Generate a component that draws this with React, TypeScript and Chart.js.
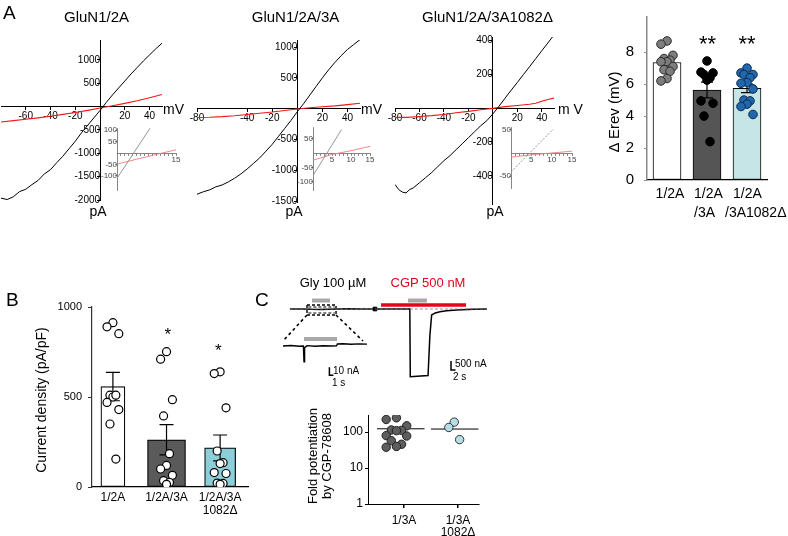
import React, { useEffect, useRef } from "react";
import { Chart, registerables } from "chart.js";
Chart.register(...registerables);

const FONT = "'Liberation Sans', Arial, Helvetica, sans-serif";
Chart.defaults.font.family = FONT;
Chart.defaults.color = "#000";

// ================= Panel A: I–V relations (mV -> pA) =================
const ivVolt5 = [-80, -75, -70, -65, -60, -55, -50, -45, -40, -35, -30, -25, -20, -15, -10, -5, 0, 5, 10, 15, 20, 25, 30, 35, 40, 45, 50];
const ivVolt10 = [-80, -70, -60, -50, -40, -30, -20, -10, 0, 10, 20, 30, 40, 50];

const iv2A_black = [-1960, -1990, -1930, -1820, -1770, -1670, -1580, -1440, -1350, -1200, -1060, -900, -740, -560, -400, -240, -80, 90, 250, 400, 550, 700, 840, 980, 1110, 1240, 1360];
const iv2A_red = [-330, -300, -270, -240, -205, -165, -125, -80, -30, 20, 70, 125, 190, 260];

const iv3A_black = [-1390, -1350, -1320, -1270, -1240, -1190, -1130, -1060, -980, -890, -800, -690, -580, -450, -320, -190, -50, 80, 220, 360, 500, 630, 750, 860, 960, 1040, 1120];
const iv3A_red = [-145, -140, -130, -115, -95, -75, -55, -30, -5, 15, 30, 45, 65, 88];

const ivDeltaVolt = [-80, -77, -74, -71, -68, -65, -60, -55, -50, -45, -40, -35, -30, -25, -20, -15, -10, -5, 0, 5, 10, 15, 20, 25, 30, 35, 40, 45, 50];
const ivDelta_black = [-450, -480, -495, -500, -480, -470, -440, -410, -380, -345, -310, -280, -245, -210, -175, -140, -105, -75, -35, 10, 58, 105, 150, 197, 243, 290, 337, 383, 430];
const ivDeltaRedVolt = [-80, -70, -60, -50, -40, -30, -20, -10, 0, 10, 20, 30, 35, 40, 45, 50];
const ivDelta_red = [-55, -55, -50, -45, -38, -28, -20, -10, -2, 8, 15, 22, 28, 40, 50, 58];

const ivTicksX_2A = [-60, -40, -20, 20, 40];
const ivTicksY_2A = [-2000, -1500, -1000, -500, 500, 1000];
const ivTicksX_3A = [-80, -40, -20, 20, 40];
const ivTicksY_3A = [-1500, -1000, -500, 500, 1000];
const ivTicksX_D = [-80, -60, -40, -20, 20, 40];
const ivTicksY_D = [-400, -200, 200, 400];

// insets (0–15 mV)
const insetVolt = [0, 5, 10, 15];
const inset2A_blackVolt = [0, 8.4];
const inset2A_black = [-110, 108];
const inset2A_red = [-48, -27, -6, 14];
const inset3A_blackVolt = [0, 7.5];
const inset3A_black = [-78, 81];
const inset3A_red = [-25, -5, 8, 23];
const insetD_blackVolt = [0, 10.4];
const insetD_black = [-41, 52];
const insetD_red = [-9, -4, 0, 4];
const insetTicksX = [1, 2, 3, 4, 5, 6, 7, 8, 9, 10, 11, 12, 13, 14, 15];
const insetLabelsX_2A = [15];
const insetLabelsX = [5, 10, 15];
const insetTicksY_2A = [-100, -50, 50, 100];
const insetTicksY_3A = [-100, -50, 50];
const insetTicksY_D = [-50, 50];

// ΔErev bar chart
const erevLabels: string[][] = [["1/2A"], ["1/2A", "/3A"], ["1/2A", "/3A1082Δ"]];
const erev2A = [8.7, 8.5, 7.8, 7.6, 7.5, 7.4, 7.4, 7.1, 6.9, 6.8, 6.35, 6.2];
const erev3A = [7.45, 6.75, 6.7, 6.6, 6.4, 6.25, 4.95, 4.8, 4.0, 2.4];
const erev1082 = [7.0, 6.7, 6.6, 6.6, 6.4, 6.1, 6.05, 5.7, 5.0, 4.95, 4.75, 4.6, 4.1];
const erevTicks = [0, 2, 4, 6, 8];

// ================= Panel B: current density =================
const densLabels: (string | string[])[] = ["1/2A", "1/2A/3A", ["1/2A/3A", "1082Δ"]];
const dens2A = [913, 890, 852, 510, 500, 510, 470, 430, 350, 155];
const dens3A = [752, 710, 485, 395, 185, 120, 100, 65, 35, 25, 15];
const dens1082 = [640, 630, 440, 200, 135, 130, 75, 80, 20, 22, 15];
const densTicks = [0, 500, 1000];

// ================= Panel C: recordings and fold potentiation =================
const recTime = [4.4, 10, 14, 18, 22, 26, 30, 36, 40, 42.2, 50, 57.7, 57.9, 61, 65.8, 66.6, 67.4, 69, 71.1, 74, 78.5, 85.9, 92];
const recCurrent = [0, 0, -20, -25, -15, 0, 10, 0, 0, 0, 0, 0, -3760, -3740, -3700, -1500, -333, -220, -150, -95, -55, -20, 0];
const glyZoomTime = [0, 2, 4, 5.1, 5.25, 5.4, 6, 8, 10, 12, 13.4, 13.6, 15, 17, 19, 21];
const glyZoomCurrent = [0, 0.6, -0.4, 0, -19.6, -2, 0.5, -0.3, 0.4, 0, 0.3, 2.5, 2.8, 2.2, 2.6, 2.3];
const glyBarTime = [14.2, 22.2];
const cgpGrayBarTime = [56.9, 65.3];
const cgpRedBarTime = [44.9, 82.7];
const glyZoomBarTime = [5.25, 13.5];

const foldLabels: (string | string[])[] = ["1/3A", ["1/3A", "1082Δ"]];
const fold3A = [250, 225, 150, 115, 112, 110, 80, 78, 58, 46, 40, 38];
const fold1082 = [190, 135, 62];
const foldMean = [124, 122];
const foldTicks = [1, 10, 100];

// ================= helpers =================
const mean = (a: number[]) => a.reduce((s, v) => s + v, 0) / a.length;
const sem = (a: number[]) => {
  const m = mean(a);
  return Math.sqrt(a.reduce((s, v) => s + (v - m) ** 2, 0) / (a.length - 1)) / Math.sqrt(a.length);
};
const pts = (xs: number[], ys: number[]) => xs.map((x, i) => ({ x, y: ys[i] }));

function jitter(values: number[], center: number, spread: number) {
  const order = values.map((_, i) => i).sort((a, b) => values[b] - values[a]);
  const pattern = [0, -1, 1, -0.5, 0.5];
  const xs: number[] = new Array(values.length);
  order.forEach((idx, rank) => {
    xs[idx] = center + spread * pattern[rank % pattern.length];
  });
  return values.map((v, i) => ({ x: xs[i], y: v }));
}

function errorBarsPlugin(groups: number[][], capHalf: number, lw: number) {
  return {
    id: "errorBars",
    afterDatasetDraw(chart: any, args: any) {
      const ds = chart.data.datasets[args.index];
      if (!ds.errGroups) return;
      const ctx = chart.ctx;
      const xs = chart.scales.x;
      const ys = chart.scales.y;
      ctx.save();
      ctx.strokeStyle = "#000";
      ctx.lineWidth = lw;
      ds.errGroups.forEach((g: number) => {
        const vals = groups[g];
        const m = mean(vals);
        const e = sem(vals);
        const px = xs.getPixelForValue(g);
        const t = ys.getPixelForValue(m + e);
        const b = ys.getPixelForValue(m - e);
        ctx.beginPath();
        ctx.moveTo(px, t);
        ctx.lineTo(px, b);
        ctx.moveTo(px - capHalf, t);
        ctx.lineTo(px + capHalf, t);
        ctx.moveTo(px - capHalf, b);
        ctx.lineTo(px + capHalf, b);
        ctx.stroke();
      });
      ctx.restore();
    },
  };
}

const baseOpts = {
  responsive: false,
  animation: false,
  devicePixelRatio: 1,
  events: [],
  plugins: { legend: { display: false }, tooltip: { enabled: false } },
};

const fixX = (h: number) => (sc: any) => { sc.height = h; sc.paddingLeft = 0; sc.paddingRight = 0; sc.paddingTop = 0; sc.paddingBottom = 0; };
const fixY = (w: number) => (sc: any) => { sc.width = w; sc.paddingLeft = 0; sc.paddingRight = 0; sc.paddingTop = 0; sc.paddingBottom = 0; };

type Ser = { x: number[]; y: number[]; color: string; width: number; dash?: number[] };
type IVSpec = {
  xMin: number; xMax: number; yMin: number; yMax: number;
  xTicks: number[]; xLabels?: number[]; yTicks: number[];
  series: Ser[];
  pad: any; fontSize: number; axisColor: string; labelColor: string;
  tickLen: number; xpad: number; ypad: number; axisWidth: number;
};

function ivConfig(s: IVSpec): any {
  const shownX = s.xLabels ?? s.xTicks;
  return {
    type: "line",
    data: {
      datasets: s.series.map((ser) => ({
        data: pts(ser.x, ser.y),
        borderColor: ser.color,
        borderWidth: ser.width,
        borderDash: ser.dash ?? [],
        pointRadius: 0,
        tension: 0,
        fill: false,
      })),
    },
    options: {
      ...baseOpts,
      layout: { padding: s.pad, autoPadding: false },
      scales: {
        x: {
          type: "linear", min: s.xMin, max: s.xMax, position: { y: 0 },
          afterBuildTicks: (ax: any) => { ax.ticks = s.xTicks.map((value) => ({ value })); },
          grid: { drawOnChartArea: false, drawTicks: true, tickLength: s.tickLen, color: s.axisColor, lineWidth: s.axisWidth },
          border: { display: true, color: s.axisColor, width: s.axisWidth },
          ticks: {
            autoSkip: false, maxRotation: 0, padding: s.xpad, color: s.labelColor,
            font: { size: s.fontSize, family: FONT },
            callback: (v: number) => (shownX.includes(v) ? String(v) : ""),
          },
        },
        y: {
          type: "linear", min: s.yMin, max: s.yMax, position: { x: 0 },
          afterBuildTicks: (ax: any) => { ax.ticks = s.yTicks.map((value) => ({ value })); },
          grid: { drawOnChartArea: false, drawTicks: true, tickLength: s.tickLen, color: s.axisColor, lineWidth: s.axisWidth },
          border: { display: true, color: s.axisColor, width: s.axisWidth },
          ticks: {
            autoSkip: false, padding: s.ypad, color: s.labelColor,
            font: { size: s.fontSize, family: FONT },
            callback: (v: number) => String(v),
          },
        },
      },
    },
  };
}

const RED = "#f01818";
const mainPad = { left: 20, right: 20, top: 20, bottom: 20 };
const insetPad = { left: 24, right: 8, top: 8, bottom: 12 };

const cfgA1 = ivConfig({
  xMin: -80, xMax: 50, yMin: -2000, yMax: 1428, xTicks: ivTicksX_2A, yTicks: ivTicksY_2A,
  series: [
    { x: ivVolt5, y: iv2A_black, color: "#000", width: 1 },
    { x: ivVolt10, y: iv2A_red, color: RED, width: 1.1 },
  ],
  pad: mainPad, fontSize: 10, axisColor: "#000", labelColor: "#000", tickLen: 3, xpad: 1, ypad: 3, axisWidth: 1,
});
const cfgA2 = ivConfig({
  xMin: -80, xMax: 50, yMin: -1516, yMax: 1114, xTicks: ivTicksX_3A, yTicks: ivTicksY_3A,
  series: [
    { x: ivVolt5, y: iv3A_black, color: "#000", width: 1 },
    { x: ivVolt10, y: iv3A_red, color: RED, width: 1.1 },
  ],
  pad: mainPad, fontSize: 10, axisColor: "#000", labelColor: "#000", tickLen: 3, xpad: 1, ypad: 3, axisWidth: 1,
});
const cfgA3 = ivConfig({
  xMin: -80, xMax: 50, yMin: -565, yMax: 418, xTicks: ivTicksX_D, yTicks: ivTicksY_D,
  series: [
    { x: ivDeltaVolt, y: ivDelta_black, color: "#000", width: 1 },
    { x: ivDeltaRedVolt, y: ivDelta_red, color: RED, width: 1.1 },
  ],
  pad: mainPad, fontSize: 10, axisColor: "#000", labelColor: "#000", tickLen: 3, xpad: 1, ypad: 3, axisWidth: 1,
});

const insetCommon = { pad: insetPad, fontSize: 8, axisColor: "#666", labelColor: "#444", tickLen: 2, xpad: 0, ypad: 1, axisWidth: 0.8 };
const cfgI1 = ivConfig({
  ...insetCommon, xMin: 0, xMax: 15, yMin: -161, yMax: 109, xTicks: insetTicksX, xLabels: insetLabelsX_2A, yTicks: insetTicksY_2A,
  series: [
    { x: inset2A_blackVolt, y: inset2A_black, color: "#8a8a8a", width: 0.9 },
    { x: insetVolt, y: inset2A_red, color: "#f07a7a", width: 0.9 },
  ],
});
const cfgI2 = ivConfig({
  ...insetCommon, xMin: 0, xMax: 15, yMin: -128, yMax: 90, xTicks: insetTicksX, xLabels: insetLabelsX, yTicks: insetTicksY_3A,
  series: [
    { x: inset3A_blackVolt, y: inset3A_black, color: "#8a8a8a", width: 0.9 },
    { x: insetVolt, y: inset3A_red, color: "#f07a7a", width: 0.9 },
  ],
});
const cfgI3 = ivConfig({
  ...insetCommon, xMin: 0, xMax: 15, yMin: -76, yMax: 56.5, xTicks: insetTicksX, xLabels: insetLabelsX, yTicks: insetTicksY_D,
  series: [
    { x: insetD_blackVolt, y: insetD_black, color: "#8a8a8a", width: 0.9, dash: [2, 1.5] },
    { x: insetVolt, y: insetD_red, color: "#f07a7a", width: 0.9 },
  ],
});

// ---- A4: ΔErev bars
const erevGroups = [erev2A, erev3A, erev1082];
const cfgA4: any = {
  type: "bar",
  data: {
    datasets: [
      { type: "scatter", data: jitter(erev2A, 0, 0.15), pointRadius: 4.3, pointBackgroundColor: "#7d7d7d", pointBorderColor: "#2a2a2a", pointBorderWidth: 1, order: 0 },
      { type: "scatter", data: jitter(erev3A, 1, 0.15), pointRadius: 4.3, pointBackgroundColor: "#000", pointBorderColor: "#000", pointBorderWidth: 1, order: 0 },
      { type: "scatter", data: jitter(erev1082, 2, 0.15), pointRadius: 4.3, pointBackgroundColor: "#2167ad", pointBorderColor: "#0d2b4e", pointBorderWidth: 1, order: 0 },
      {
        type: "bar",
        data: erevGroups.map((g, i) => ({ x: i, y: mean(g) })),
        backgroundColor: ["#ffffff", "#555555", "#c6e5e7"],
        borderColor: "#000", borderWidth: 1, borderSkipped: false, barThickness: 28, order: 5,
        errGroups: [0, 1, 2],
      },
    ],
  },
  options: {
    ...baseOpts,
    layout: { padding: { left: 0, right: 21, top: 17, bottom: 0 }, autoPadding: false },
    scales: {
      x: {
        type: "linear", min: -0.5, max: 2.5, offset: false,
        afterBuildTicks: (ax: any) => { ax.ticks = [0, 1, 2].map((value) => ({ value })); },
        afterFit: fixX(56),
        grid: { display: false, drawTicks: false },
        border: { display: true, color: "#000", width: 1.2 },
        ticks: { display: false },
      },
      y: {
        type: "linear", min: 0, max: 10.2,
        afterBuildTicks: (ax: any) => { ax.ticks = erevTicks.map((value) => ({ value })); },
        afterFit: fixY(57),
        grid: { display: true, drawOnChartArea: false, drawTicks: true, tickLength: 3, color: "#8a8a8a" },
        border: { display: true, color: "#8a8a8a", width: 1.5 },
        ticks: { padding: 10, font: { size: 15, family: FONT }, callback: (v: number) => String(v) },
      },
    },
  },
  plugins: [errorBarsPlugin(erevGroups, 6, 1.2)],
};

// ---- B: current density bars
const densGroups = [dens2A, dens3A, dens1082];
const densColors = ["#ffffff", "#5a5a5a", "#8ccfd9"];
const densWidths = [24, 38, 31];
const cfgB: any = {
  type: "bar",
  data: {
    datasets: [
      ...densGroups.map((g, i) => ({
        type: "scatter", data: jitter(g, i, 0.11), pointRadius: 4, pointBackgroundColor: "#fff",
        pointBorderColor: "#000", pointBorderWidth: 1.2, order: 0,
      })),
      ...densGroups.map((g, i) => ({
        type: "bar", data: [{ x: i, y: mean(g) }], backgroundColor: densColors[i], borderColor: "#000",
        borderWidth: 1.2, borderSkipped: false, barThickness: densWidths[i], grouped: false, order: 5, errGroups: [i],
      })),
    ],
  },
  options: {
    ...baseOpts,
    layout: { padding: { left: 0, right: 12, top: 17, bottom: 0 }, autoPadding: false },
    scales: {
      x: {
        type: "linear", min: -0.39, max: 2.52, offset: false,
        afterBuildTicks: (ax: any) => { ax.ticks = [0, 1, 2].map((value) => ({ value })); },
        afterFit: fixX(49),
        grid: { display: false, drawTicks: false },
        border: { display: true, color: "#000", width: 1.2 },
        ticks: { padding: 4, maxRotation: 0, autoSkip: false, font: { size: 12, family: FONT, lineHeight: 1.1 }, callback: (v: number) => densLabels[v] },
      },
      y: {
        type: "linear", min: 0, max: 1000,
        afterBuildTicks: (ax: any) => { ax.ticks = densTicks.map((value) => ({ value })); },
        afterFit: fixY(92),
        grid: { display: true, drawOnChartArea: false, drawTicks: true, tickLength: 4, color: "#333" },
        border: { display: true, color: "#333", width: 1.2 },
        ticks: { padding: 6, font: { size: 11, family: FONT }, callback: (v: number) => String(v) },
      },
    },
  },
  plugins: [errorBarsPlugin(densGroups, 7, 1.2)],
};

// ---- C: recording traces
const lineDs = (data: any[], color: string, width: number, extra: any = {}) => ({
  data, borderColor: color, borderWidth: width, pointRadius: 0, tension: 0, fill: false, ...extra,
});
const cfgTrace: any = {
  type: "line",
  data: {
    datasets: [
      lineDs([{ x: recTime[0], y: 0 }, { x: recTime[recTime.length - 1], y: 0 }], "#777", 0.8, { borderDash: [3, 2] }),
      lineDs(pts(recTime, recCurrent), "#000", 1.5),
      lineDs(glyBarTime.map((x) => ({ x, y: 472 })), "#a8a8a8", 4),
      lineDs(cgpRedBarTime.map((x) => ({ x, y: 222 })), "#e8001c", 3.5),
      lineDs(cgpGrayBarTime.map((x) => ({ x, y: 472 })), "#a8a8a8", 4),
      lineDs([{ x: 42.2, y: 0 }], "#000", 1, { pointRadius: 2.6, pointStyle: "rect", pointBackgroundColor: "#000", showLine: false }),
      lineDs([{ x: 12, y: 222 }, { x: 24.9, y: 222 }, { x: 24.9, y: -333 }, { x: 12, y: -333 }, { x: 12, y: 222 }], "#000", 1.4, { borderDash: [3, 2] }),
      lineDs([{ x: 12.6, y: 111 }, { x: 24.3, y: 111 }], "#000", 1.2, { borderDash: [3, 2] }),
      lineDs([{ x: 12.6, y: -222 }, { x: 24.3, y: -222 }], "#000", 1.2, { borderDash: [3, 2] }),
      lineDs([{ x: 12, y: -333 }, { x: 1.33, y: -1780 }], "#000", 1.6, { borderDash: [3, 3] }),
      lineDs([{ x: 24.9, y: -333 }, { x: 36.9, y: -1780 }], "#000", 1.6, { borderDash: [3, 3] }),
      lineDs([{ x: 76, y: -2890 }, { x: 76, y: -3390 }, { x: 78, y: -3390 }], "#000", 1.5),
      lineDs(pts(glyZoomTime, glyZoomCurrent), "#000", 1.4, { xAxisID: "x2", yAxisID: "y2" }),
      lineDs(glyZoomBarTime.map((x) => ({ x, y: 8.75 })), "#a8a8a8", 4, { xAxisID: "x2", yAxisID: "y2" }),
      lineDs([{ x: 11.6, y: -26.6 }, { x: 11.6, y: -36.6 }, { x: 12.6, y: -36.6 }], "#000", 1.5, { xAxisID: "x2", yAxisID: "y2" }),
    ],
  },
  options: {
    ...baseOpts,
    layout: { padding: 0, autoPadding: false },
    scales: {
      x: { type: "linear", min: 0, max: 100, display: false },
      y: { type: "linear", min: -4500, max: 1056, display: false },
      x2: { type: "linear", axis: "x", min: -0.75, max: 55.5, display: false },
      y2: { type: "linear", axis: "y", min: -55, max: 70, display: false },
    },
  },
};

// ---- C: fold potentiation (log)
const cfgFold: any = {
  type: "scatter",
  data: {
    datasets: [
      { type: "scatter", data: jitter(fold3A, -0.14, 0.19), pointRadius: 4.2, pointBackgroundColor: "#5e5e5e", pointBorderColor: "#222", pointBorderWidth: 1, order: 0 },
      { type: "scatter", data: jitter(fold1082, 0.93, 0.1), pointRadius: 4.2, pointBackgroundColor: "#b5dfe6", pointBorderColor: "#333", pointBorderWidth: 1, order: 0 },
      ...foldMean.map((m, g) => ({
        type: "line", data: [{ x: g - 0.5, y: m }, { x: g + 0.38, y: m }], borderColor: "#000", borderWidth: 1,
        pointRadius: 0, order: 1,
      })),
    ],
  },
  options: {
    ...baseOpts,
    layout: { padding: { left: 0, right: 11, top: 15, bottom: 0 }, autoPadding: false },
    scales: {
      x: {
        type: "linear", min: -0.667, max: 1.389,
        afterBuildTicks: (ax: any) => { ax.ticks = [0, 1].map((value) => ({ value })); },
        afterFit: fixX(32),
        grid: { display: true, drawOnChartArea: false, drawTicks: true, tickLength: 4, color: "#000", lineWidth: 1.5 },
        border: { display: true, color: "#000", width: 1 },
        ticks: { padding: 7, maxRotation: 0, autoSkip: false, font: { size: 12, family: FONT, lineHeight: 1.0 }, callback: (v: number) => foldLabels[v] },
      },
      y: {
        type: "logarithmic", min: 1, max: 300,
        afterBuildTicks: (ax: any) => { ax.ticks = foldTicks.map((value) => ({ value })); },
        afterFit: fixY(78),
        grid: { display: true, drawOnChartArea: false, drawTicks: true, tickLength: 3, color: "#000" },
        border: { display: true, color: "#000", width: 1 },
        ticks: { padding: 2, font: { size: 12, family: FONT }, callback: (v: number) => String(v) },
      },
    },
  },
};

// ================= components =================
function ChartBox({ left, top, width, height, config }: any) {
  const ref = useRef<HTMLCanvasElement>(null);
  useEffect(() => {
    const c = new Chart(ref.current as HTMLCanvasElement, config);
    return () => c.destroy();
  }, []);
  return (
    <canvas ref={ref} width={width} height={height}
      style={{ position: "absolute", left, top, width, height }} />
  );
}

function Txt({ x, y, size, children, align = "left", color = "#000" }: any) {
  const tx = align === "center" ? "-50%" : align === "right" ? "-100%" : "0";
  return (
    <div style={{
      position: "absolute", left: x, top: y - 0.847 * size, fontSize: size, lineHeight: `${size}px`,
      fontFamily: FONT, color, whiteSpace: "nowrap", transform: `translateX(${tx})`,
    }}>{children}</div>
  );
}

function VTxt({ cx, cy, size, children }: any) {
  return (
    <div style={{
      position: "absolute", left: cx, top: cy, fontSize: size, lineHeight: `${size}px`, fontFamily: FONT,
      whiteSpace: "nowrap", transform: "translate(-50%,-50%) rotate(-90deg)",
    }}>{children}</div>
  );
}

export default function App() {
  return (
    <div style={{ position: "fixed", left: 0, top: 0, width: 788, height: 536, overflow: "hidden", background: "#fff" }}>
      <ChartBox left={-19} top={20} width={201} height={200} config={cfgA1} />
      <ChartBox left={177} top={20} width={203} height={202} config={cfgA2} />
      <ChartBox left={375} top={17} width={199} height={207} config={cfgA3} />
      <ChartBox left={93} top={120} width={91} height={82} config={cfgI1} />
      <ChartBox left={289} top={119} width={89} height={83} config={cfgI2} />
      <ChartBox left={487} top={119} width={93} height={81} config={cfgI3} />
      <ChartBox left={590} top={0} width={198} height={236} config={cfgA4} />
      <ChartBox left={0} top={290} width={260} height={246} config={cfgB} />
      <ChartBox left={280} top={290} width={225} height={100} config={cfgTrace} />
      <ChartBox left={290} top={400} width={200} height={136} config={cfgFold} />

      <Txt x={3} y={19.5} size={19}>A</Txt>
      <Txt x={96.5} y={21.5} size={15} align="center">GluN1/2A</Txt>
      <Txt x={295.5} y={21.5} size={15} align="center">GluN1/2A/3A</Txt>
      <Txt x={487.5} y={21.5} size={15} align="center">GluN1/2A/3A1082Δ</Txt>
      <Txt x={163} y={113.5} size={14}>mV</Txt>
      <Txt x={361} y={113.5} size={14}>mV</Txt>
      <Txt x={558} y={113.5} size={14}>m V</Txt>
      <Txt x={98} y={216} size={14} align="center">pA</Txt>
      <Txt x={294} y={216} size={14} align="center">pA</Txt>
      <Txt x={495} y={216} size={14} align="center">pA</Txt>
      <VTxt cx={613} cy={112} size={15}>Δ Erev (mV)</VTxt>
      <Txt x={707.5} y={51.5} size={22} align="center">**</Txt>
      <Txt x={747} y={51.5} size={22} align="center">**</Txt>
      <Txt x={670} y={198} size={14} align="center">{erevLabels[0][0]}</Txt>
      <Txt x={694} y={198} size={14}>{erevLabels[1][0]}</Txt>
      <Txt x={694} y={217} size={14}>{erevLabels[1][1]}</Txt>
      <Txt x={733} y={198} size={14}>{erevLabels[2][0]}</Txt>
      <Txt x={725} y={217} size={14}>{erevLabels[2][1]}</Txt>

      <Txt x={6} y={306.5} size={19}>B</Txt>
      <VTxt cx={41} cy={400} size={14}>Current density (pA/pF)</VTxt>
      <Txt x={167.7} y={340} size={17} align="center">*</Txt>
      <Txt x={218.3} y={356} size={17} align="center">*</Txt>

      <Txt x={255} y={306.5} size={19}>C</Txt>
      <Txt x={333} y={287} size={13} align="center">Gly 100 µM</Txt>
      <Txt x={428} y={287} size={13} align="center" color="#e8001c">CGP 500 nM</Txt>
      <Txt x={333} y={374} size={10}>10 nA</Txt>
      <Txt x={332} y={386} size={10}>1 s</Txt>
      <Txt x={455} y={367} size={10}>500 nA</Txt>
      <Txt x={453} y={380} size={10}>2 s</Txt>
      <VTxt cx={312} cy={456} size={13}>Fold potentiation</VTxt>
      <VTxt cx={326} cy={456} size={13}>by CGP-78608</VTxt>
    </div>
  );
}
